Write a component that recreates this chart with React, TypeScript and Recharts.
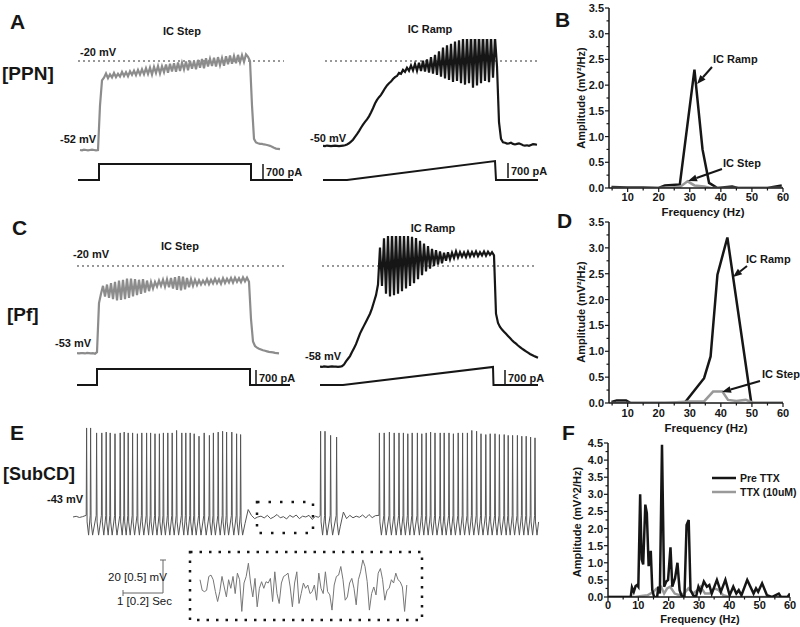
import { Line, LineChart, ReferenceArea, ReferenceLine, XAxis, YAxis } from 'recharts'

const FONT = '"Liberation Sans", Arial, sans-serif'
const INK = '#161616'
const GRAY = '#8c8c8c'

// ---- A [PPN] : membrane potential (mV), one sample every 20 ms
const ppnStepTrace = [
	-52.0, -52.1, -51.9, -52.0, -52.1, -52.0, -51.9, -52.0, -52.1, -52.0,
	-36.0, -27.0,
	-26.0, -24.5, -26.2, -24.8, -25.9, -24.3, -25.8, -24.6, -25.6, -23.9,
	-25.4, -24.0, -25.5, -23.7, -25.0, -23.5, -25.1, -23.2, -24.9, -23.0,
	-24.8, -22.6, -24.7, -22.4, -24.9, -22.1, -24.3, -21.8, -24.5, -21.9,
	-24.0, -21.3, -24.2, -21.0, -23.8, -20.8, -23.9, -20.5, -23.6, -20.6,
	-23.0, -20.2, -23.3, -19.9, -22.8, -20.0, -23.0, -19.6, -22.4, -19.3,
	-22.6, -19.0, -22.0, -19.2, -21.8, -18.8, -22.0, -18.6, -21.5, -18.9,
	-21.7, -18.3, -21.2, -18.0, -21.0, -18.2, -20.8, -17.8, -20.5, -17.9,
	-20.3, -17.6, -18.5,
	-20.0, -36, -48, -49.3, -49.6, -49.8, -49.8, -50.0, -50.1, -50.3,
	-50.5, -50.8, -51.2, -51.5, -51.6, -51.7,
]
const ppnRampTrace = [
	-50.5, -50.6, -50.4, -50.5, -50.6, -50.5, -50.4, -50.5, -50.6, -50.5, -50.4, -50.3,
	-50.0, -49.6, -49.0, -48.3, -47.3, -46.3, -45.2, -44.0, -42.9, -41.9,
	-41.0, -39.9, -38.5, -37.0, -35.3, -34.0, -33.0, -32.2, -31.0, -29.8,
	-28.8, -28.0, -27.4, -26.5, -25.8, -25.4, -24.3,
	-24.6, -23.2, -23.9, -22.4, -23.5, -21.6, -23.4, -21.0, -23.5, -20.6,
	-23.6, -19.9, -23.8, -19.4, -24.2, -18.6, -24.5, -17.8, -25.0, -16.5,
	-25.6, -15.2, -26.3, -14.4, -26.8, -13.8, -27.5, -13.0, -27.2, -12.6,
	-28.0, -11.8, -28.5, -11.3, -28.0, -10.5, -29.6, -9.8, -28.8, -10.2,
	-28.0, -10.0, -27.2, -10.4, -27.6, -11.0, -26.0, -11.5,
	-22.0, -42.0, -48.0, -49.2, -49.4, -49.7, -49.6, -49.4, -49.8, -50.0,
	-49.8, -49.6, -49.9, -50.3, -50.4, -50.3, -50.5, -50.2, -49.9, -50.0, -50.1,
]
// command current (pA) and its times (ms)
const ppnStepStimT = [0, 210, 210, 1730, 1730, 2150]
const ppnStepStimI = [0, 0, 700, 700, 0, 0]
const ppnRampStimT = [0, 240, 1720, 1730, 2150]
const ppnRampStimI = [0, 0, 830, 0, 0]

// ---- C [Pf]
const pfStepTrace = [
	-52.9, -53.0, -52.9, -52.9, -53.0, -52.8, -52.9, -53.0, -52.9, -53.1,
	-52.5,
	-34, -30.5, -27.5, -31.5, -27.0, -32.0, -26.5, -32.5, -26.0, -33.0,
	-25.5, -32.8, -25.2, -32.5, -24.8, -32.0, -24.8, -31.5, -25.0, -31.0,
	-25.2, -30.5, -25.0, -30.0, -25.5, -29.5, -26.0, -28.5, -26.0, -27.8,
	-25.5, -27.5, -25.2, -27.8, -25.0, -28.0, -24.5, -28.5, -24.2, -29.0,
	-23.8, -29.2, -24.0, -28.8, -24.5, -28.0, -25.0, -27.5, -25.2, -27.2,
	-25.4, -27.0, -25.5, -26.8, -25.0, -26.9, -25.2, -26.6, -24.8, -26.5,
	-25.0, -26.7, -24.6, -26.4, -24.8, -26.2, -24.5, -26.3, -24.4, -26.0,
	-24.6, -26.1, -24.3, -25.8, -24.4, -26.0,
	-40, -48.5, -50.2, -50.8, -51.2, -51.5, -51.8, -52.0, -52.2, -52.4,
	-52.5, -52.6, -52.8, -52.9, -53.0,
]
const pfRampTrace = [
	-58.0, -58.1, -57.9, -58.0, -58.1, -58.0, -57.9, -58.0, -58.0, -58.1, -58.0, -57.8,
	-57.2, -56.0, -55.0, -54.0, -52.5, -51.0, -49.5, -47.5, -45.5, -44.0,
	-42.5, -41.0, -39.5, -38.0, -36.0, -33.5, -31.0, -27.0,
	-13.0, -27.5, -9.5, -30.5, -8.5, -31.5, -7.5, -31.0, -7.0, -30.5,
	-7.5, -29.5, -8.0, -28.5, -8.5, -27.5, -9.0, -26.5, -9.5, -25.0,
	-10.5, -23.5, -11.5, -22.0, -12.5, -21.0, -13.5, -20.0, -14.0, -19.5,
	-14.5, -19.0, -15.0, -18.0, -14.8, -17.5, -15.0, -17.0, -14.5, -16.8,
	-14.8, -16.5, -14.9, -16.6, -14.6, -16.4, -14.7, -16.2, -14.5, -16.3,
	-14.8, -16.0, -14.5, -16.1, -14.6, -15.8, -14.8, -16.0,
	-38.0, -41.5, -43.0, -44.0, -44.8, -45.6, -46.4, -47.2, -48.0, -48.7,
	-49.3, -50.0, -50.6, -51.2, -51.7, -52.2, -52.7, -53.2, -53.6, -54.0,
	-54.3, -54.6,
]
const pfStepStimT = [0, 200, 200, 1730, 1730, 2130]
const pfStepStimI = [0, 0, 700, 700, 0, 0]
const pfRampStimT = [0, 230, 1730, 1735, 2180]
const pfRampStimI = [0, 0, 790, 0, 0]

// ---- E [SubCD] : spike times (s) and peaks (mV)
const subStart = [-43, -42.6, -43.3, -42.8]
const subSpikeT1 = [
	0.34, 0.44, 0.59, 0.72, 0.83, 0.93, 1.05, 1.18, 1.28, 1.38, 1.49, 1.61,
	1.72, 1.84, 1.94, 2.05, 2.16, 2.26, 2.37, 2.48, 2.59, 2.72, 2.82, 2.93,
	3.03, 3.15, 3.28, 3.41, 3.51, 3.63, 3.74, 3.84, 3.97, 4.09, 4.19,
]
const subSpikeV1 = [
	11, 11, 8, 8, 8.5, 8, 7.5, 8, 8.5, 8, 8, 7.5, 8, 8, 8, 7.5, 7.5, 8, 8, 8,
	9.5, 8, 8, 8, 7.5, 6, 8, 6.5, 8, 8.5, 9, 8.5, 8.5, 7.5, 7,
]
const subQuiet1 = [
	-47, -38.5, -42, -44, -43, -42.5, -43.6, -42, -44, -43, -41.5, -43.5,
	-42.8, -44.2, -42, -43.2, -41.8, -44, -42.5, -43, -42, -44.5, -42.6, -43.2,
]
const subSpikeT2 = [6.19, 6.3, 6.44, 6.59]
const subSpikeV2 = [9, 9, 6.5, 5.5]
const subQuiet2 = [-49, -40, -44, -42, -43.5, -42.5, -43.2, -41.8, -43.6, -41.5, -43.4, -42.2]
const subSpikeT3 = [
	7.66, 7.78, 7.91, 8.03, 8.15, 8.26, 8.37, 8.48, 8.61, 8.72, 8.83, 8.94,
	9.05, 9.18, 9.28, 9.4, 9.51, 9.63, 9.74, 9.86, 9.97, 10.09, 10.2, 10.32,
	10.43, 10.55, 10.66, 10.78, 10.88, 10.99, 11.11, 11.22, 11.33, 11.44, 11.55,
]
const subSpikeV3 = [
	8, 8, 8.5, 8, 8, 8, 7.5, 8, 8, 7.5, 8, 8.5, 8, 8, 8, 8, 7.5, 8, 8, 8,
	9.5, 9, 7.5, 7, 7.5, 7.5, 7, 7, 6.5, 6.5, 6.5, 6, 6, 5.5, 5,
]
const spikeFoot = -42
const spikeAhp = -46
const spikeTrough = -54
const subEnd = -46

// inset: subthreshold oscillation, deviation from -43 mV, one sample per 11 ms
const insetTrace = [
	0.08, -0.08, -0.1, -0.08, 0.13, 0.15, 0.08, -0.1, -0.25, -0.1,
	0.13, -0.03, -0.18, 0.08, -0.05, 0.13, -0.13, 0.18, 0.08, -0.4,
	0.03, 0.13, 0.33, 0.03, -0.18, 0.1, -0.33, -0.05, 0.05, -0.05,
	0.05, 0.03, 0.1, -0.25, 0.2, -0.13, -0.28, 0.03, 0.13, 0.15,
	0.18, -0.03, -0.33, 0.03, 0.2, -0.28, -0.13, 0.03, -0.05, 0.0,
	-0.13, -0.1, 0.0, -0.23, 0.18, -0.05, -0.13, 0.2, -0.1, -0.15,
	-0.38, 0.0, 0.13, 0.15, 0.28, 0.08, -0.23, -0.18, 0.03, 0.1,
	-0.05, -0.3, 0.08, 0.2, 0.38, 0.28, 0.05, -0.38, -0.13, -0.03,
	-0.15, 0.18, 0.25, 0.08, -0.23, -0.08, -0.05, 0.08, 0.03, 0.18,
	0.08, 0.05, -0.03, -0.4, 0.0,
]

// ---- spectra (Hz, mV^2/Hz)
const bRampF = [4.8, 10, 15, 20, 22, 26.8, 31.5, 34.1, 36.2, 38.9, 43.6, 45.5, 50, 55, 59.6]
const bRampA = [0.02, 0.01, 0.01, 0.0, 0.05, 0.07, 2.3, 0.75, 0.1, 0.0, 0.03, 0.0, 0.0, 0.0, 0.05]
const bStepF = [4.8, 20, 26.8, 29.3, 31.5, 34.6, 36.8, 40, 60]
const bStepA = [0, 0, 0.02, 0.13, 0.05, 0.03, 0.0, 0, 0]

const dRampF = [4.8, 6.5, 9.5, 11, 20, 28.3, 34.6, 36.7, 38.9, 42.1, 49.8, 60]
const dRampA = [0.02, 0.05, 0.05, 0.0, 0.0, 0.0, 0.48, 0.9, 2.48, 3.2, 0.0, 0.0]
const dStepF = [4.8, 22, 27, 30, 34.6, 37.5, 40.5, 42.3, 45, 48, 50.5, 60]
const dStepA = [0, 0, 0.02, 0.03, 0.03, 0.22, 0.22, 0.06, 0.04, 0.06, 0.0, 0]

const fPreF = [
	0, 7.5, 7.9, 8.5, 9.1, 9.6, 10, 10.6, 11.1, 11.6, 12.3, 12.8, 13.4, 14.1, 14.6,
	15.2, 16.2, 16.6, 17.1, 17.8, 18.5, 19.2, 19.8, 20.6, 21.2, 22.1, 22.9, 23.6,
	24.2, 25.2, 25.9, 26.6, 27.2, 28.1, 29, 29.8, 30.5, 31.6, 32.6, 33.4, 34.2,
	35.9, 37.2, 38.7, 40.1, 41.3, 42.3, 43.1, 44, 45.9, 48, 48.8, 49.5, 50.8,
	52.4, 54, 56.3, 57, 59.2, 60,
]
const fPreA = [
	0, 0, 0.28, 0.15, 0.32, 0.35, 0.3, 3.0, 1.1, 0.95, 2.7, 2.45, 0.9, 1.35, 0.2,
	0.0, 0.0, 0.3, 0.1, 4.45, 0.3, 0.45, 0.5, 1.45, 0.3, 0.55, 1.0, 0.2,
	0.05, 0.0, 2.1, 2.25, 0.2, 0.05, 0.0, 0.3, 0.15, 0.45, 0.3, 0.35, 0.1,
	0.5, 0.15, 0.5, 0.05, 0.3, 0.1, 0.2, 0.05, 0.5, 0.1, 0.25, 0.15, 0.4,
	0.05, 0, 0.1, 0, 0.0, 0.1,
]
const fTtxF = [0, 9, 11, 13, 15, 16, 17.5, 18.5, 19.5, 20.5, 22, 23.5, 25, 26.5, 28, 29.5, 30.5, 32, 33.5, 35, 36.5, 38, 40, 60]
const fTtxA = [0, 0, 0.03, 0.05, 0.15, 0.25, 0.3, 0.1, 0.25, 0.3, 0.1, 0.05, 0.1, 0.25, 0.1, 0.2, 0.3, 0.1, 0.1, 0.25, 0.2, 0.05, 0.0, 0]

const ampTicks35 = [0, 0.25, 0.5, 0.75, 1, 1.25, 1.5, 1.75, 2, 2.25, 2.5, 2.75, 3, 3.25, 3.5]
const ampTicks45 = [...ampTicks35, 3.75, 4, 4.25, 4.5]
const freqTicksBD = [5, 10, 15, 20, 25, 30, 35, 40, 45, 50, 55, 60]
const freqTicksF = [0, ...freqTicksBD]

const series = (vals: number[], t0: number, dt: number) => vals.map((v, i) => ({ t: t0 + i * dt, v }))
const pairs = (xs: number[], ys: number[], kx: string, ky: string) => xs.map((x, i) => ({ [kx]: x, [ky]: ys[i] }))

const spikes = (times: number[], peaks: number[]) =>
	times.flatMap((t, k) => [
		{ t: t - 0.01, v: spikeFoot },
		{ t, v: peaks[k] },
		{ t: t + 0.012, v: spikeAhp },
		{ t: t + 0.05, v: spikeTrough },
	])

const subTrace = [
	...series(subStart, 0, 0.08),
	...spikes(subSpikeT1, subSpikeV1),
	...series(subQuiet1, 4.3, 0.08),
	...spikes(subSpikeT2, subSpikeV2),
	...series(subQuiet2, 6.68, 0.08),
	...spikes(subSpikeT3, subSpikeV3),
	{ t: 11.64, v: subEnd },
]

type TraceProps = {
	left: number
	top: number
	height: number
	trace: number[]
	t0: number
	color: string
	stimT: number[]
	stimI: number[]
	dash: [number, number]
	vDomain: [number, number]
	iDomain: [number, number]
}

const TracePanel = ({ left, top, height, trace, t0, color, stimT, stimI, dash, vDomain, iDomain }: TraceProps) => (
	<div style={{ position: 'absolute', left, top }}>
		<LineChart width={222} height={height} margin={{ top: 0, right: 0, bottom: 0, left: 0 }}>
			<XAxis type='number' dataKey='t' domain={[0, 2220]} hide allowDataOverflow />
			<YAxis yAxisId='v' type='number' domain={vDomain} hide allowDataOverflow />
			<YAxis yAxisId='i' type='number' domain={iDomain} hide allowDataOverflow />
			<ReferenceLine
				yAxisId='v'
				segment={[{ x: dash[0], y: -20 }, { x: dash[1], y: -20 }]}
				stroke='#333'
				strokeWidth={1}
				strokeDasharray='2 3'
			/>
			<Line
				yAxisId='i'
				data={pairs(stimT, stimI, 't', 'i')}
				dataKey='i'
				type='linear'
				stroke={INK}
				strokeWidth={2}
				dot={false}
				isAnimationActive={false}
			/>
			<Line
				yAxisId='v'
				data={series(trace, t0, 20)}
				dataKey='v'
				type='linear'
				stroke={color}
				strokeWidth={2.2}
				dot={false}
				isAnimationActive={false}
			/>
		</LineChart>
	</div>
)

const XTick = (props: any) => {
	const { x, y, payload, dy = 14 } = props
	const major = payload.value % 10 === 0
	return (
		<g>
			<line x1={x} y1={y} x2={x} y2={y + (major ? 4 : 2.5)} stroke={INK} strokeWidth={1.2} />
			{major && (
				<text x={x} y={y + dy} textAnchor='middle' fontSize={11} fontWeight='bold' fontFamily={FONT} fill={INK}>
					{payload.value}
				</text>
			)}
		</g>
	)
}

const YTick = (props: any) => {
	const { x, y, payload } = props
	const major = Number.isInteger(Math.round(payload.value * 100) / 50)
	return (
		<g>
			<line x1={x} y1={y} x2={x - (major ? 4 : 2.5)} y2={y} stroke={INK} strokeWidth={1.2} />
			{major && (
				<text x={x - 5} y={y + 4} textAnchor='end' fontSize={11} fontWeight='bold' fontFamily={FONT} fill={INK}>
					{payload.value.toFixed(1)}
				</text>
			)}
		</g>
	)
}

type Spec = { data: { f: number; a: number }[]; color: string }

const SpectrumChart = ({
	top,
	height,
	margin,
	xDomain,
	xTicks,
	yDomain,
	yTicks,
	tickDy,
	lines,
}: {
	top: number
	height: number
	margin: { top: number; right: number; bottom: number; left: number }
	xDomain: [number, number]
	xTicks: number[]
	yDomain: [number, number]
	yTicks: number[]
	tickDy: number
	lines: Spec[]
}) => (
	<div style={{ position: 'absolute', left: 550, top }}>
		<LineChart width={250} height={height} margin={margin}>
			<XAxis
				type='number'
				dataKey='f'
				domain={xDomain}
				ticks={xTicks}
				interval={0}
				allowDataOverflow
				height={20}
				tickSize={0}
				tickMargin={0}
				tickLine={false}
				tick={<XTick dy={tickDy} />}
				axisLine={{ stroke: INK, strokeWidth: 1.5 }}
			/>
			<YAxis
				type='number'
				domain={yDomain}
				ticks={yTicks}
				interval={0}
				allowDataOverflow
				width={30}
				tickSize={0}
				tickMargin={0}
				tickLine={false}
				tick={<YTick />}
				axisLine={{ stroke: INK, strokeWidth: 1.5 }}
			/>
			{lines.map((s, k) => (
				<Line
					key={k}
					data={s.data}
					dataKey='a'
					type='linear'
					stroke={s.color}
					strokeWidth={2.5}
					dot={false}
					isAnimationActive={false}
				/>
			))}
		</LineChart>
	</div>
)

const T = ({
	x,
	y,
	size = 11,
	anchor = 'start',
	weight = 'bold',
	rotate,
	children,
}: {
	x: number
	y: number
	size?: number
	anchor?: 'start' | 'middle' | 'end'
	weight?: string
	rotate?: boolean
	children: React.ReactNode
}) => (
	<text
		x={x}
		y={y}
		fontSize={size}
		fontWeight={weight}
		fontFamily={FONT}
		fill={INK}
		textAnchor={anchor}
		transform={rotate ? `rotate(-90 ${x} ${y})` : undefined}
	>
		{children}
	</text>
)

const Arrow = ({ x1, y1, x2, y2 }: { x1: number; y1: number; x2: number; y2: number }) => {
	const a = Math.atan2(y2 - y1, x2 - x1)
	const bx = x2 - 9 * Math.cos(a)
	const by = y2 - 9 * Math.sin(a)
	const s = Math.sin(a) * 3.5
	const c = Math.cos(a) * 3.5
	return (
		<g>
			<line x1={x1} y1={y1} x2={bx} y2={by} stroke={INK} strokeWidth={2} />
			<polygon points={`${x2},${y2} ${bx + s},${by - c} ${bx - s},${by + c}`} fill={INK} />
		</g>
	)
}

const Bar700 = ({ x, y }: { x: number; y: number }) => (
	<g>
		<line x1={x} y1={y} x2={x} y2={y + 15} stroke={INK} strokeWidth={1.5} />
		<T x={x + 3} y={y + 12}>
			700 pA
		</T>
	</g>
)

const rowA = { v: [-66.38, -12.09] as [number, number], i: [-437.5, 6168.75] as [number, number] }
const rowC = { v: [-67.55, -8.68] as [number, number], i: [-306.25, 6518.75] as [number, number] }

export default function App() {
	return (
		<div style={{ position: 'relative', width: 800, height: 627, background: '#fff', overflow: 'hidden' }}>
			<style>{'body{margin:0}'}</style>

			<TracePanel left={78} top={39} height={151} trace={ppnStepTrace} t0={20} color={GRAY}
				stimT={ppnStepStimT} stimI={ppnStepStimI} dash={[0, 2060]} vDomain={rowA.v} iDomain={rowA.i} />
			<TracePanel left={323} top={39} height={151} trace={ppnRampTrace} t0={0} color={INK}
				stimT={ppnRampStimT} stimI={ppnRampStimI} dash={[20, 2150]} vDomain={rowA.v} iDomain={rowA.i} />
			<TracePanel left={77} top={236} height={156} trace={pfStepTrace} t0={0} color={GRAY}
				stimT={pfStepStimT} stimI={pfStepStimI} dash={[0, 2100]} vDomain={rowC.v} iDomain={rowC.i} />
			<TracePanel left={320} top={236} height={156} trace={pfRampTrace} t0={0} color={INK}
				stimT={pfRampStimT} stimI={pfRampStimI} dash={[20, 2170]} vDomain={rowC.v} iDomain={rowC.i} />

			{/* E: long recording */}
			<div style={{ position: 'absolute', left: 73, top: 425 }}>
				<LineChart width={470} height={120} margin={{ top: 0, right: 0, bottom: 0, left: 0 }}>
					<XAxis type='number' dataKey='t' domain={[0, 11.75]} hide allowDataOverflow />
					<YAxis type='number' domain={[-60, 12.8]} hide allowDataOverflow />
					<ReferenceArea x1={4.6} x2={6.0} y1={-52.7} y2={-33.9} fill='none' stroke={INK}
						strokeWidth={2.5} strokeDasharray='2.5 9' />
					<Line data={subTrace} dataKey='v' type='linear' stroke='#555' strokeWidth={1}
						dot={false} isAnimationActive={false} />
				</LineChart>
			</div>
			{/* E: inset */}
			<div style={{ position: 'absolute', left: 190, top: 552 }}>
				<LineChart width={232} height={68} margin={{ top: 0, right: 0, bottom: 0, left: 0 }}>
					<XAxis type='number' dataKey='t' domain={[-0.05, 1.11]} hide allowDataOverflow />
					<YAxis type='number' domain={[-0.53, 0.5]} hide allowDataOverflow />
					<Line data={series(insetTrace, 0, 0.011)} dataKey='v' type='linear' stroke='#777'
						strokeWidth={1} dot={false} isAnimationActive={false} />
				</LineChart>
			</div>

			<SpectrumChart top={0} height={220} margin={{ top: 8, right: 17, bottom: 12, left: 29 }}
				xDomain={[4, 60]} xTicks={freqTicksBD} yDomain={[0, 3.5]} yTicks={ampTicks35} tickDy={13}
				lines={[
					{ data: pairs(bRampF, bRampA, 'f', 'a') as any, color: INK },
					{ data: pairs(bStepF, bStepA, 'f', 'a') as any, color: '#999' },
				]} />
			<SpectrumChart top={214} height={220} margin={{ top: 8, right: 17, bottom: 11, left: 29 }}
				xDomain={[4, 60]} xTicks={freqTicksBD} yDomain={[0, 3.5]} yTicks={ampTicks35} tickDy={14}
				lines={[
					{ data: pairs(dRampF, dRampA, 'f', 'a') as any, color: INK },
					{ data: pairs(dStepF, dStepA, 'f', 'a') as any, color: '#999' },
				]} />
			<SpectrumChart top={435} height={192} margin={{ top: 8, right: 10, bottom: 10, left: 28 }}
				xDomain={[0, 60]} xTicks={freqTicksF} yDomain={[0, 4.5]} yTicks={ampTicks45} tickDy={11.5}
				lines={[
					{ data: pairs(fTtxF, fTtxA, 'f', 'a') as any, color: '#9a9a9a' },
					{ data: pairs(fPreF, fPreA, 'f', 'a') as any, color: INK },
				]} />

			<svg width={800} height={627} style={{ position: 'absolute', left: 0, top: 0, pointerEvents: 'none' }}>
				{/* A */}
				<T x={10} y={29} size={21}>A</T>
				<T x={2} y={80} size={19}>[PPN]</T>
				<T x={182} y={35} anchor='middle'>IC Step</T>
				<T x={430} y={33} anchor='middle'>IC Ramp</T>
				<T x={80} y={56}>-20 mV</T>
				<T x={60} y={143}>-52 mV</T>
				<T x={310} y={142}>-50 mV</T>
				<Bar700 x={263} y={164} />
				<Bar700 x={508} y={163} />

				{/* B */}
				<T x={555} y={27} size={21}>B</T>
				<T x={585} y={98} anchor='middle' rotate>Amplitude (mV²/Hz)</T>
				<T x={703} y={216} anchor='middle' size={11.5}>Frequency (Hz)</T>
				<T x={713} y={63}>IC Ramp</T>
				<Arrow x1={712} y1={67} x2={697} y2={84} />
				<T x={723} y={167}>IC Step</T>
				<Arrow x1={722} y1={169} x2={688} y2={181} />

				{/* C */}
				<T x={12} y={235} size={21}>C</T>
				<T x={7} y={321} size={19}>[Pf]</T>
				<T x={180} y={250} anchor='middle'>IC Step</T>
				<T x={433} y={232} anchor='middle'>IC Ramp</T>
				<T x={73} y={258}>-20 mV</T>
				<T x={55} y={347}>-53 mV</T>
				<T x={305} y={360}>-58 mV</T>
				<Bar700 x={256} y={370} />
				<Bar700 x={505} y={370} />

				{/* D */}
				<T x={557} y={228} size={21}>D</T>
				<T x={585} y={312} anchor='middle' rotate>Amplitude (mV²/Hz)</T>
				<T x={706} y={432} anchor='middle' size={11.5}>Frequency (Hz)</T>
				<T x={746} y={263}>IC Ramp</T>
				<Arrow x1={747} y1={266} x2={733} y2={277} />
				<T x={762} y={378}>IC Step</T>
				<Arrow x1={760} y1={381} x2={722} y2={392} />

				{/* E */}
				<T x={10} y={440} size={21}>E</T>
				<T x={3} y={480} size={18}>[SubCD]</T>
				<T x={47} y={503}>-43 mV</T>
				<line x1={163} y1={560} x2={163} y2={593} stroke='#666' strokeWidth={1} />
				<line x1={160} y1={560} x2={166} y2={560} stroke='#666' strokeWidth={1} />
				<line x1={123} y1={593} x2={163} y2={593} stroke='#666' strokeWidth={1} />
				<line x1={123} y1={590} x2={123} y2={596} stroke='#666' strokeWidth={1} />
				<T x={108} y={581} weight='normal' size={11.5}>20 [0.5] mV</T>
				<T x={117} y={605} weight='normal' size={11.5}>1 [0.2] Sec</T>
				<rect x={190} y={552} width={232} height={68} fill='none' stroke={INK} strokeWidth={2.5}
					strokeDasharray='2.5 7' />

				{/* F */}
				<T x={562} y={440} size={21}>F</T>
				<T x={581} y={522} anchor='middle' rotate>Amplitude (mV^2/Hz)</T>
				<T x={700} y={623} anchor='middle' size={11}>Frequency (Hz)</T>
				<line x1={712} y1={478} x2={736} y2={478} stroke={INK} strokeWidth={2.5} />
				<T x={740} y={482} size={10.5}>Pre TTX</T>
				<line x1={712} y1={492} x2={736} y2={492} stroke='#9a9a9a' strokeWidth={2.5} />
				<T x={740} y={496} size={10.5}>TTX (10uM)</T>
			</svg>
		</div>
	)
}
